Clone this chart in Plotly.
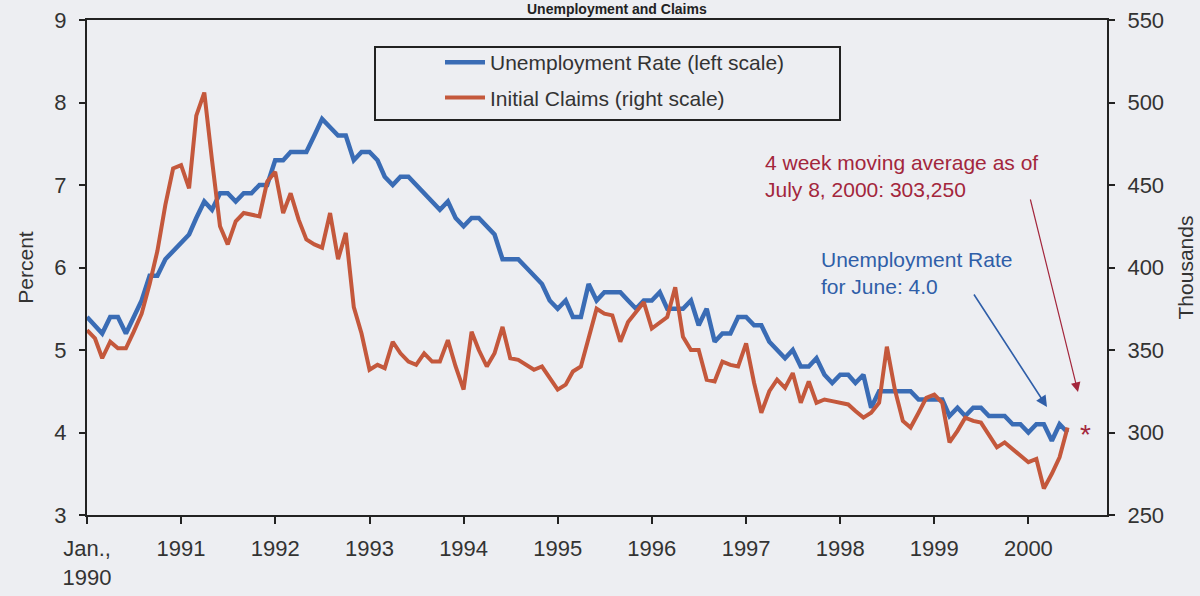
import pandas as pd
import plotly.graph_objects as go

# ---------------- data ----------------
start_month = "1990-01-01"
n_months = 126  # Jan 1990 .. Jun 2000

unemployment_rate = [
    5.4, 5.3, 5.2, 5.4, 5.4, 5.2, 5.4, 5.6, 5.9, 5.9, 6.1, 6.2,   # 1990
    6.3, 6.4, 6.6, 6.8, 6.7, 6.9, 6.9, 6.8, 6.9, 6.9, 7.0, 7.0,   # 1991
    7.3, 7.3, 7.4, 7.4, 7.4, 7.6, 7.8, 7.7, 7.6, 7.6, 7.3, 7.4,   # 1992
    7.4, 7.3, 7.1, 7.0, 7.1, 7.1, 7.0, 6.9, 6.8, 6.7, 6.8, 6.6,   # 1993
    6.5, 6.6, 6.6, 6.5, 6.4, 6.1, 6.1, 6.1, 6.0, 5.9, 5.8, 5.6,   # 1994
    5.5, 5.6, 5.4, 5.4, 5.8, 5.6, 5.7, 5.7, 5.7, 5.6, 5.5, 5.6,   # 1995
    5.6, 5.7, 5.5, 5.5, 5.5, 5.6, 5.3, 5.5, 5.1, 5.2, 5.2, 5.4,   # 1996
    5.4, 5.3, 5.3, 5.1, 5.0, 4.9, 5.0, 4.8, 4.8, 4.9, 4.7, 4.6,   # 1997
    4.7, 4.7, 4.6, 4.7, 4.3, 4.5, 4.5, 4.5, 4.5, 4.5, 4.4, 4.4,   # 1998
    4.4, 4.4, 4.2, 4.3, 4.2, 4.3, 4.3, 4.2, 4.2, 4.2, 4.1, 4.1,   # 1999
    4.0, 4.1, 4.1, 3.9, 4.1, 4.0,                                 # 2000
]

initial_claims = [
    362, 357, 345, 355, 351, 351, 361, 372, 390, 410, 438, 460,   # 1990
    462, 448, 492, 506, 465, 425, 414, 428, 433, 432, 431, 452,   # 1991
    458, 433, 445, 429, 417, 414, 412, 433, 405, 421, 376, 360,   # 1992
    338, 341, 339, 355, 348, 343, 341, 348, 343, 343, 356, 340,   # 1993
    326, 361, 350, 340, 348, 364, 345, 344, 341, 338, 340, 333,   # 1994
    326, 329, 337, 340, 358, 375, 372, 371, 355, 367, 373, 379,   # 1995
    363, 367, 370, 388, 358, 350, 350, 332, 331, 343, 341, 340,   # 1996
    354, 330, 312, 325, 332, 327, 336, 318, 331, 318, 320, 319,   # 1997
    318, 317, 313, 309, 312, 318, 352, 326, 307, 303, 312, 321,   # 1998
    323, 318, 294, 301, 309, 307, 306, 298, 291, 294, 290, 286,   # 1999
    282, 284, 266, 275, 285, 303,                                 # 2000
]

tick_years = list(range(1990, 2001))
tick_labels = ["Jan.,<br>1990"] + [str(y) for y in range(1991, 2001)]

series_names = ["Unemployment Rate (left scale)", "Initial Claims (right scale)"]
title_text = "Unemployment and Claims"
note_claims = "4 week moving average as of<br>July 8, 2000: 303,250"
note_rate = "Unemployment Rate<br>for June: 4.0"

# ---------------- styling ----------------
W, H = 1200, 596
L, R, T, B = 87, 93, 20, 81
PW, PH = W - L - R, H - T - B
BG = "#edeef2"
BLUE = "#3a6cb5"
RED = "#c4583c"
DARKRED = "#a3263c"
NOTEBLUE = "#2f5ea8"
TXT = "#333333"
FONT = "Liberation Sans, Arial, sans-serif"


def px_x(p):
    return (p - L) / PW


def px_y(p):
    return 1 - (p - T) / PH


months = pd.date_range(start_month, periods=n_months, freq="MS")

fig = go.Figure()
fig.add_trace(go.Scatter(
    x=months, y=unemployment_rate, name=series_names[0], mode="lines",
    line=dict(color=BLUE, width=4.5), yaxis="y", legendgroup="a",
    hoverinfo="skip"))
fig.add_trace(go.Scatter(
    x=months, y=initial_claims, name=series_names[1], mode="lines",
    line=dict(color=RED, width=4), yaxis="y2", legendgroup="b",
    hoverinfo="skip"))

axis_common = dict(showgrid=False, zeroline=False, showline=True,
                   linecolor="#222222", linewidth=2, ticks="outside",
                   tickcolor="#222222", tickwidth=1.5, automargin=False,
                   tickfont=dict(family=FONT, size=22, color=TXT))

fig.update_layout(
    width=W, height=H,
    margin=dict(l=L, r=R, t=T, b=B, pad=0, autoexpand=False),
    paper_bgcolor=BG, plot_bgcolor=BG,
    font=dict(family=FONT, color=TXT),
    showlegend=True,
    legend=dict(x=px_x(440), y=px_y(42), xanchor="left", yanchor="top",
                bgcolor="rgba(0,0,0,0)", borderwidth=0,
                font=dict(family=FONT, size=21, color=TXT),
                tracegroupgap=5, itemwidth=40),
    xaxis=dict(**axis_common, type="date",
               range=[pd.Timestamp("1990-01-01"), pd.Timestamp("2000-11-01")],
               tickvals=[pd.Timestamp(f"{y}-01-01") for y in tick_years],
               ticktext=tick_labels, ticklen=7, ticklabelstandoff=6,
               mirror=True),
    yaxis=dict(**axis_common, range=[3, 9], dtick=1, ticklen=6,
               ticklabelstandoff=8,
               title=dict(text="Percent", font=dict(family=FONT, size=21, color=TXT),
                          standoff=15)),
    yaxis2=dict(**axis_common, range=[250, 550], dtick=50, ticklen=6,
                overlaying="y", side="right", ticklabelstandoff=8,
                title=dict(text="Thousands", font=dict(family=FONT, size=21, color=TXT),
                           standoff=15)),
)

# legend frame
fig.add_shape(type="rect", xref="paper", yref="paper",
              x0=px_x(375), x1=px_x(840), y0=px_y(120), y1=px_y(47),
              line=dict(color="#222222", width=2), fillcolor="rgba(0,0,0,0)")

# small title kept inside the top margin
fig.add_annotation(text=f"<b>{title_text}</b>", xref="paper", yref="paper",
                   x=px_x(617), y=1, xanchor="center", yanchor="bottom",
                   yshift=1, showarrow=False,
                   font=dict(family=FONT, size=14, color="#222222"))

# notes
fig.add_annotation(text=note_claims, xref="paper", yref="paper",
                   x=px_x(763), y=px_y(149), xanchor="left", yanchor="top",
                   align="left", showarrow=False,
                   font=dict(family=FONT, size=21, color=DARKRED))
fig.add_annotation(text=note_rate, xref="paper", yref="paper",
                   x=px_x(819), y=px_y(246), xanchor="left", yanchor="top",
                   align="left", showarrow=False,
                   font=dict(family=FONT, size=21, color=NOTEBLUE))

# arrows
fig.add_annotation(text="", xref="paper", yref="paper",
                   x=px_x(1078), y=px_y(392), ax=-48, ay=-194,
                   showarrow=True, arrowhead=2, arrowsize=1.6, arrowwidth=1.2,
                   arrowcolor=DARKRED)
fig.add_annotation(text="", xref="paper", yref="paper",
                   x=px_x(1047), y=px_y(407), ax=-74, ay=-114,
                   showarrow=True, arrowhead=2, arrowsize=1.4, arrowwidth=1.6,
                   arrowcolor=NOTEBLUE)

# asterisk marking the latest claims value
fig.add_annotation(text="*", xref="paper", yref="paper",
                   x=px_x(1085), y=px_y(434), xanchor="center", yanchor="middle",
                   showarrow=False, font=dict(family=FONT, size=28, color=DARKRED))

fig.write_html(
    "out.html",
    config={"displayModeBar": False},
    post_script="document.body.style.margin='0px';"
                "document.body.style.background='" + BG + "';",
)
